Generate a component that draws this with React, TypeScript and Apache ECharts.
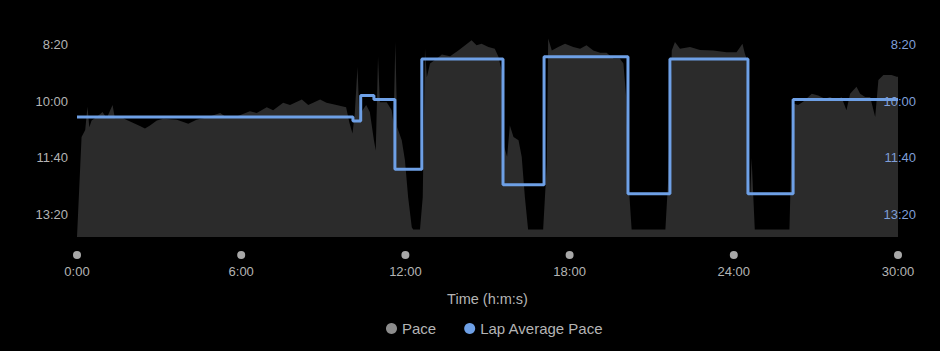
import React, { useEffect, useRef } from "react";
import * as echarts from "echarts";

// Pace samples: elapsed time (s) and pace (s per mile/km)
const paceTime = [
  0, 10, 18, 23, 27, 32, 43, 56, 65, 78, 83, 101, 120, 138, 149, 160, 175, 189, 219, 244,
  262, 284, 314, 328, 350, 379, 394, 416, 430, 452, 467, 493, 507, 533, 547, 569, 590, 597, 604, 609,
  615, 619, 626, 634, 642, 651, 655, 660, 664, 679, 690, 694, 698, 702, 712, 719, 726, 734, 737, 752,
  758, 763, 767, 774, 789, 800, 818, 836, 851, 865, 876, 887, 902, 916, 924, 931, 937, 943, 949, 957,
  968, 975, 982, 989, 1022, 1030, 1033, 1041, 1055, 1070, 1088, 1103, 1117, 1132, 1147, 1161, 1176, 1190, 1198, 1204,
  1209, 1216, 1290, 1296, 1304, 1311, 1322, 1344, 1366, 1395, 1424, 1446, 1459, 1464, 1468, 1472, 1476, 1479, 1486, 1494,
  1562, 1569, 1581, 1592, 1611, 1625, 1640, 1651, 1666, 1676, 1687, 1695, 1709, 1717, 1728, 1739, 1750, 1757, 1768, 1786,
  1797, 1800,
];
const paceSec = [
  839, 663, 651, 610, 646, 634, 628, 619, 630, 607, 630, 630, 637, 644, 648, 643, 634, 631, 633, 640,
  633, 629, 621, 629, 627, 618, 621, 611, 616, 603, 607, 597, 607, 597, 603, 607, 611, 637, 657, 622,
  540, 628, 616, 607, 619, 669, 687, 522, 602, 602, 616, 640, 496, 646, 669, 704, 769, 822, 826, 826,
  769, 508, 558, 534, 525, 518, 521, 511, 502, 493, 502, 499, 505, 508, 522, 546, 681, 698, 643, 663,
  669, 698, 769, 826, 826, 710, 490, 511, 505, 499, 505, 508, 502, 511, 515, 515, 525, 525, 534, 593,
  740, 826, 826, 740, 511, 496, 508, 505, 510, 511, 514, 514, 499, 516, 525, 710, 769, 700, 826, 826,
  826, 604, 607, 601, 587, 590, 596, 593, 599, 593, 616, 587, 575, 587, 593, 593, 628, 563, 554, 554,
  557, 557,
];

// Laps: start time (s) and lap average pace (s)
const lapStart = [0, 605, 622, 651, 697, 756, 934, 1024, 1208, 1300, 1471, 1570];
const lapPace = [628, 635, 590, 597, 720, 526, 747, 522, 763, 526, 763, 597];
const endTime = 1800;

const yTicks = [500, 600, 700, 800];

const FONT = "'Liberation Sans', Arial, Helvetica, sans-serif";

function fmt(v: number): string {
  const m = Math.floor(v / 60);
  const s = Math.round(v - m * 60);
  return `${m}:${s < 10 ? "0" : ""}${s}`;
}

export default function App() {
  const ref = useRef<HTMLDivElement>(null);

  useEffect(() => {
    document.body.style.margin = "0";
    document.body.style.background = "#000";
    if (!ref.current) return;
    const chart = echarts.init(ref.current, undefined, { renderer: "svg" });

    const paceData = paceTime.map((t, i) => [t, paceSec[i]]);
    const lapData = lapStart.map((t, i) => [t, lapPace[i]]);
    lapData.push([endTime, lapPace[lapPace.length - 1]]);

    const yBase = {
      type: "value" as const,
      inverse: true,
      min: 475,
      max: 839,
      axisLine: { show: false },
      axisTick: { show: false },
      splitLine: { show: false },
    };

    chart.setOption({
      animation: false,
      backgroundColor: "#000",
      textStyle: { fontFamily: FONT },
      grid: { left: 77, right: 42, top: 30, bottom: 114 },
      legend: {
        data: ["Pace", "Lap Average Pace"],
        icon: "circle",
        left: 381,
        top: 316,
        itemWidth: 11,
        itemHeight: 11,
        itemGap: 28,
        textStyle: { color: "#b4b4b4", fontSize: 15, fontFamily: FONT },
      },
      xAxis: {
        type: "value",
        min: 0,
        max: endTime,
        interval: 360,
        name: "Time (h:m:s)",
        nameLocation: "middle",
        nameGap: 54,
        nameTextStyle: { color: "#b4b4b4", fontSize: 14.5, fontFamily: FONT },
        axisLine: { show: false },
        axisTick: { show: false },
        splitLine: { show: false },
        axisLabel: {
          margin: 12,
          formatter: (v: number) => `{d|}\n{t|${fmt(v)}}`,
          rich: {
            d: {
              width: 8,
              height: 8,
              lineHeight: 12,
              backgroundColor: "#a8a8a8",
              borderRadius: 4,
            },
            t: { color: "#b4b4b4", fontSize: 13, lineHeight: 20, fontFamily: FONT },
          },
        },
      },
      yAxis: [
        {
          ...yBase,
          position: "left",
          axisLabel: {
            customValues: yTicks,
            formatter: fmt,
            color: "#b4b4b4",
            fontSize: 13,
            margin: 9,
            fontFamily: FONT,
          },
        },
        {
          ...yBase,
          position: "right",
          z: 5,
          axisLabel: {
            customValues: yTicks,
            formatter: fmt,
            color: "#7f9fd8",
            fontSize: 13,
            margin: 18,
            align: "right",
            fontFamily: FONT,
          },
        },
      ],
      series: [
        {
          name: "Pace",
          type: "line",
          data: paceData,
          symbol: "none",
          z: 1,
          itemStyle: { color: "#8c8c8c" },
          lineStyle: { width: 0, color: "#2b2b2b" },
          areaStyle: { color: "#2b2b2b", opacity: 1, origin: "end" },
        },
        {
          name: "Lap Average Pace",
          type: "line",
          yAxisIndex: 1,
          step: "end",
          data: lapData,
          symbol: "none",
          z: 3,
          itemStyle: { color: "#6ea0e6" },
          lineStyle: { color: "#6ea0e6", width: 3 },
        },
      ],
    });

    return () => chart.dispose();
  }, []);

  return (
    <div
      ref={ref}
      style={{ position: "absolute", left: 0, top: 0, width: 940, height: 351 }}
    />
  );
}
